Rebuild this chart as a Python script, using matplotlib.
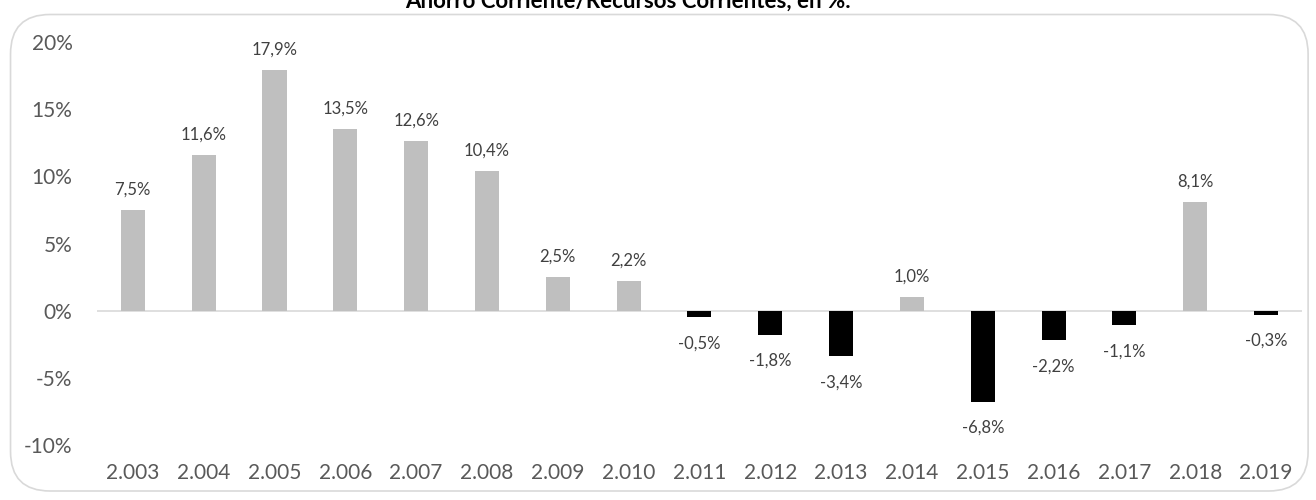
import matplotlib.pyplot as plt
from matplotlib.patches import FancyBboxPatch

years = ['2.003', '2.004', '2.005', '2.006', '2.007', '2.008', '2.009', '2.010', '2.011',
         '2.012', '2.013', '2.014', '2.015', '2.016', '2.017', '2.018', '2.019']
ratio = [7.5, 11.6, 17.9, 13.5, 12.6, 10.4, 2.5, 2.2, -0.5, -1.8, -3.4, 1.0, -6.8, -2.2, -1.1, 8.1, -0.3]
yticks = [-10, -5, 0, 5, 10, 15, 20]

plt.rcParams['font.family'] = ['Lato', 'DejaVu Sans']

fig = plt.figure(figsize=(13.16, 5), dpi=100)
# rounded frame around the chart area
frame = FancyBboxPatch((0.008, 0.018), 0.986, 0.953, boxstyle='round,pad=0,rounding_size=0.03',
                       transform=fig.transFigure, facecolor='none', edgecolor='#D9D9D9',
                       linewidth=1.2, mutation_aspect=1316 / 500, zorder=0)
fig.patches.append(frame)

ax = fig.add_axes([0.074, 0.11, 0.915, 0.806])
ax.set_facecolor('none')

x = list(range(len(years)))
colors = ['#BFBFBF' if v >= 0 else '#000000' for v in ratio]
ax.bar(x, ratio, width=0.34, color=colors, zorder=3)

for xi, v in zip(x, ratio):
    txt = f'{v:.1f}%'.replace('.', ',')
    if v >= 0:
        ax.annotate(txt, (xi, v), xytext=(0, 9), textcoords='offset points',
                    ha='center', va='bottom', fontsize=12, color='#404040')
    else:
        ax.annotate(txt, (xi, v), xytext=(0, -13), textcoords='offset points',
                    ha='center', va='top', fontsize=12, color='#404040')

ax.set_xlim(-0.5, len(years) - 0.5)
ax.set_ylim(-10, 20)
ax.set_yticks(yticks)
ax.set_yticklabels([f'{t}%' for t in yticks])
ax.set_xticks(x)
ax.set_xticklabels(years)
ax.tick_params(axis='both', length=0, labelsize=15, colors='#595959')
ax.tick_params(axis='x', pad=13)
ax.tick_params(axis='y', pad=18)
ax.axhline(0, color='#D9D9D9', linewidth=1.2, zorder=2)
for s in ax.spines.values():
    s.set_visible(False)

fig.text(0.477, 0.998, 'Ahorro Corriente/Recursos Corrientes, en %.', ha='center', va='center',
         fontsize=16, fontweight='bold', color='#000000')

fig.savefig('out.png', dpi=100)
